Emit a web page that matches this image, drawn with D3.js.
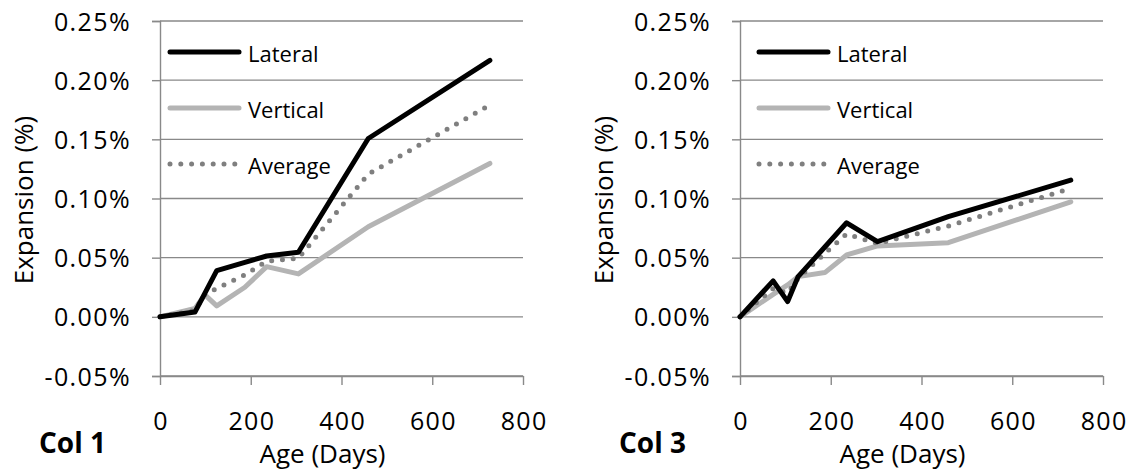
<!DOCTYPE html>
<html><head><meta charset="utf-8">
<script src="https://cdn.jsdelivr.net/npm/d3@7"></script>
<style>
html,body{margin:0;padding:0;background:#fff;}
svg text{font-family:"Open Sans",sans-serif;fill:#000;}
</style></head>
<body><svg id="c" width="1133" height="472"></svg>
<script>
// ---- data (percent expansion vs age in days) ----
const seriesNames = ["Lateral", "Vertical", "Average"];
const xTicks = [0, 200, 400, 600, 800];
const yTicks = [-0.05, 0, 0.05, 0.10, 0.15, 0.20, 0.25];

const daysCol1 = [0, 77, 99, 125, 187, 235, 305, 459, 727];
const lateralCol1 = [0, 0.004, 0.020, 0.039, 0.046, 0.0514, 0.0546, 0.1507, 0.2167];
const verticalCol1 = [0, 0.007, 0.0186, 0.0093, 0.025, 0.0424, 0.0363, 0.0761, 0.1296];
const averageCol1 = [0, 0.0055, 0.019, 0.024, 0.0354, 0.047, 0.0495, 0.1206, 0.179];

const daysCol3 = [0, 73, 105, 128, 187, 235, 303, 459, 729];
const lateralCol3 = [0, 0.0304, 0.0129, 0.034, 0.059, 0.0795, 0.0635, 0.0846, 0.1155];
const verticalCol3 = [0, 0.019, 0.027, 0.034, 0.0374, 0.0523, 0.0599, 0.0627, 0.0972];
const averageCol3 = [0, 0.024, 0.020, 0.0326, 0.0537, 0.070, 0.062, 0.0767, 0.1085];

const svg = d3.select("#c");
const styles = [
  {stroke:"#000000", width:5, dash:null},
  {stroke:"#b4b4b4", width:5, dash:null},
  {stroke:"#7f7f7f", width:5, dash:"0 10.8"}
];

function drawChart(left, label, days, series, legendX) {
  const top = 21, w = 363, h = 355;
  const x = d3.scaleLinear().domain([0, 800]).range([0, w]);
  const y = d3.scaleLinear().domain([-0.05, 0.25]).range([h, 0]);
  const g = svg.append("g").attr("transform", `translate(${left},${top})`);

  // gridlines
  g.append("g").selectAll("line").data(yTicks).join("line")
    .attr("x1", 0).attr("x2", w)
    .attr("y1", d => y(d)).attr("y2", d => y(d))
    .attr("stroke", "#898989").attr("stroke-width", 1.4);

  // y axis
  const ya = g.append("g").call(d3.axisLeft(y).tickValues(yTicks).tickSize(8).tickPadding(21)
      .tickFormat(d => d.toFixed(2) + "%"));
  ya.select(".domain").attr("stroke", "#898989").attr("stroke-width", 1.4);
  ya.selectAll(".tick line").attr("stroke", "#898989").attr("stroke-width", 1.4);
  ya.selectAll("text").style("font-size", "25px").style("letter-spacing", "1.4px").attr("dy", "0.36em");

  // x axis
  const xa = g.append("g").attr("transform", `translate(0,${h})`)
    .call(d3.axisBottom(x).tickValues(xTicks).tickSize(9).tickSizeOuter(0));
  xa.select(".domain").attr("stroke", "#898989").attr("stroke-width", 1.4);
  xa.selectAll(".tick line").attr("stroke", "#898989").attr("stroke-width", 1.4);
  xa.selectAll("text").style("font-size", "25px").style("letter-spacing", "1.4px")
    .attr("y", 430 - top - h).attr("dy", 0).attr("dx", "0.7px");

  // lines (vertical, average drawn under lateral)
  const line = d3.line().x((d,i) => x(days[i])).y(d => y(d));
  [1, 2, 0].forEach(k => {
    g.append("path").datum(series[k])
      .attr("fill", "none").attr("stroke", styles[k].stroke)
      .attr("stroke-width", styles[k].width)
      .attr("stroke-linejoin", "round").attr("stroke-linecap", "round")
      .attr("stroke-dasharray", styles[k].dash)
      .attr("d", line);
  });

  // legend
  const lg = g.append("g").attr("transform", `translate(${legendX},0)`);
  seriesNames.forEach((n, k) => {
    const yy = 31 + k * 56;
    lg.append("line").attr("x1", 0).attr("x2", 69).attr("y1", yy).attr("y2", yy)
      .attr("stroke", styles[k].stroke).attr("stroke-width", styles[k].width)
      .attr("stroke-linecap", "round").attr("stroke-dasharray", styles[k].dash);
    lg.append("text").attr("x", 78).attr("y", yy + 10).style("font-size", "22px").text(n);
  });

  // axis titles
  g.append("text").attr("x", w / 2 - 19).attr("y", 463 - top)
    .attr("text-anchor", "middle").style("font-size", "26px").text("Age (Days)");
  g.append("text").attr("transform", `translate(-127,${200 - top}) rotate(-90)`)
    .attr("text-anchor", "middle").style("font-size", "26px").text("Expansion (%)");
  g.append("text").attr("x", -54).attr("y", 453 - top)
    .attr("text-anchor", "end").style("font-size", "28px").style("font-weight", "bold").text(label);
}

drawChart(160, "Col 1", daysCol1, [lateralCol1, verticalCol1, averageCol1], 10);
drawChart(740, "Col 3", daysCol3, [lateralCol3, verticalCol3, averageCol3], 19);
</script></body></html>
